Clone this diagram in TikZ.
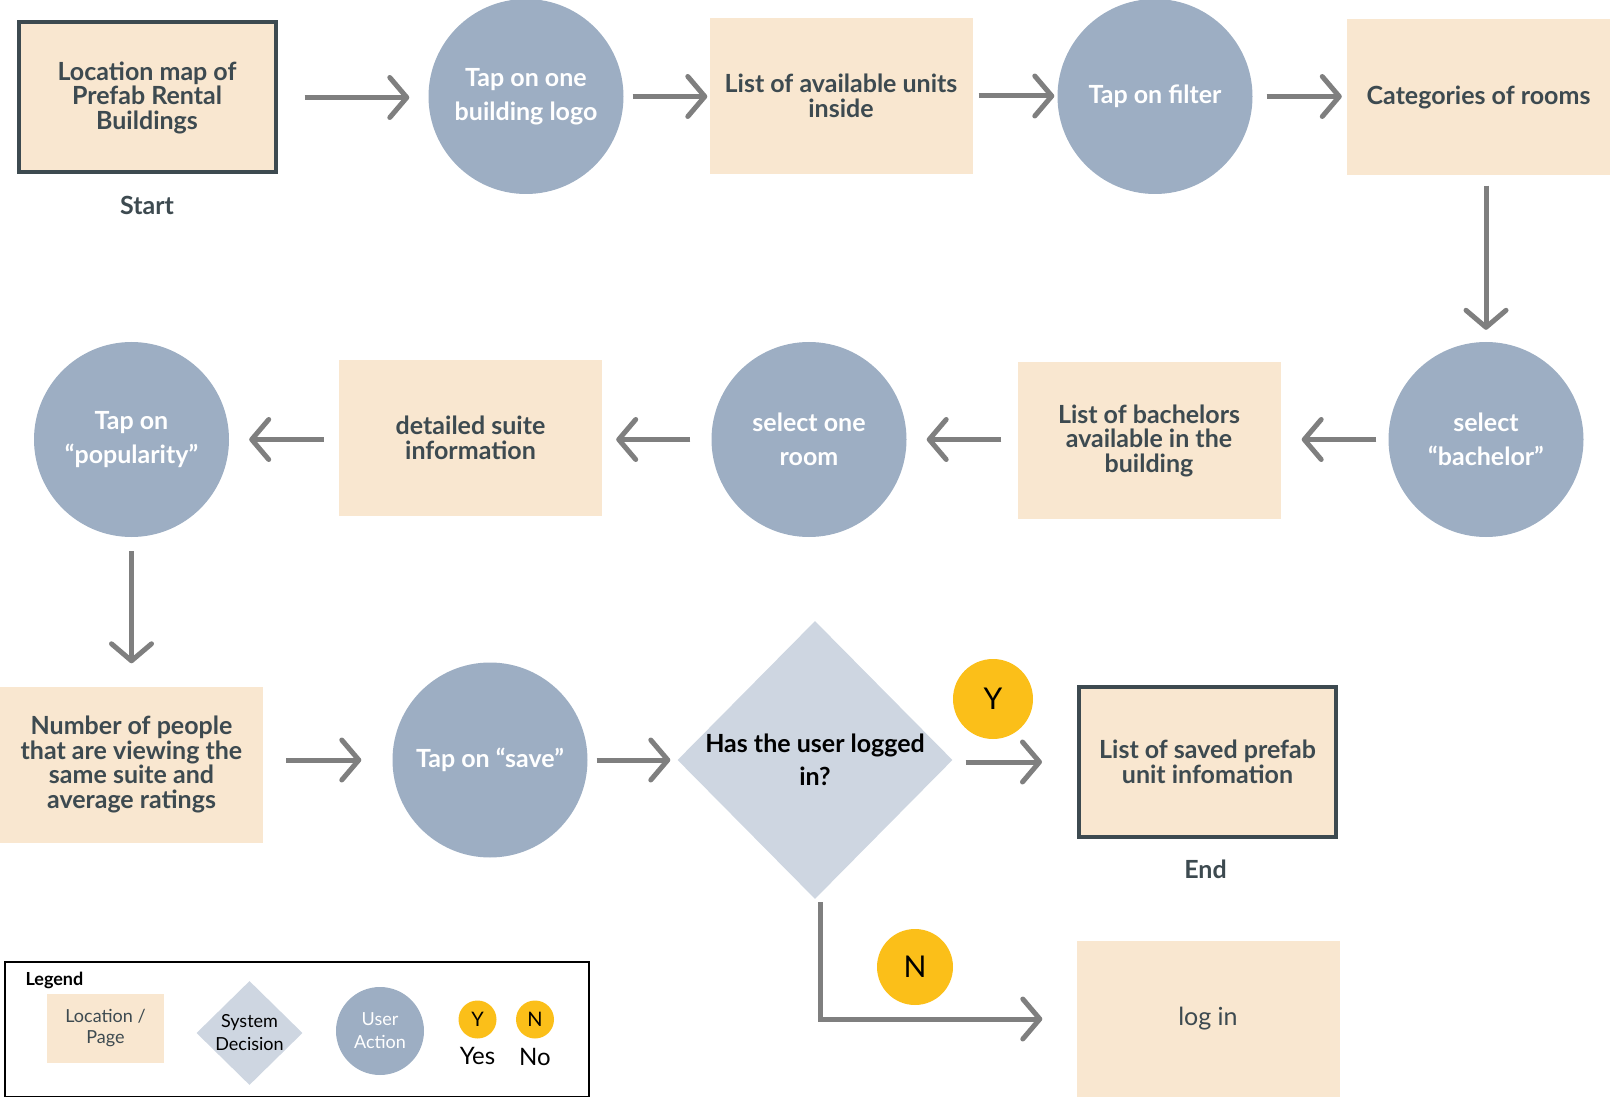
\documentclass[tikz,border=0pt]{standalone}
\usepackage{fontspec}
\setmainfont{Lato}
\usepackage{xcolor}
\usepackage{tikz}
\usetikzlibrary{shapes,arrows,positioning,calc,arrows.meta}

\definecolor{pagefill}{HTML}{F9E7D0}
\definecolor{actionfill}{HTML}{9DAEC3}
\definecolor{decfill}{HTML}{CED6E1}
\definecolor{textdark}{HTML}{3D4A50}
\definecolor{arrowgray}{HTML}{7F7F7F}
\definecolor{yesno}{HTML}{FBBF19}

\begin{document}
\begin{tikzpicture}[x=1pt, y=-1pt,
    page/.style={rectangle, fill=pagefill, minimum width=263pt, minimum height=156pt,
        align=center, text=textdark, font=\fontsize{25}{24.5}\selectfont\bfseries},
    endpage/.style={page, draw=textdark, line width=4pt, minimum width=257pt, minimum height=150pt},
    action/.style={circle, fill=actionfill, minimum size=195pt, inner sep=0pt,
        align=center, text=white, font=\fontsize{25}{34}\selectfont\bfseries},
    decision/.style={diamond, fill=decfill, minimum width=275pt, minimum height=278pt, inner sep=0pt},
    dectext/.style={align=center, text=black, font=\fontsize{25}{33}\selectfont\bfseries},
    tag/.style={text=textdark, font=\fontsize{25}{26}\selectfont\bfseries},
    yn/.style={circle, fill=yesno, minimum size=80pt, inner sep=0pt, text=black, font=\fontsize{30}{32}\selectfont},
    flow/.style={draw=arrowgray, line width=5pt,
        -{Straight Barb[length=17pt, width=40pt, line cap=round, line join=round]}},
    legbox/.style={draw=black, line width=1.6pt},
    legtext/.style={align=center, font=\fontsize{18}{23}\selectfont}]

    \useasboundingbox (0,0) rectangle (1610,1099);

    % first row
    \node[endpage] (map) at (147,97.5) {Location map of\\Prefab Rental\\Buildings};
    \node[tag] (start) at (147,205) {Start};
    \node[action] (logo) at (526,96.5) {Tap on one\\building logo};
    \node[page] (units) at (841,96) {List of available units\\inside};
    \node[action] (filter) at (1155,96.5) {Tap on filter};
    \node[page] (cats) at (1478.5,97.5) {Categories of rooms};

    % second row
    \node[action] (bachelor) at (1486,439.5) {select\\“bachelor”};
    \node[page] (bachlist) at (1149,440.5) {List of bachelors\\available in the\\building};
    \node[action] (room) at (809,439.5) {select one\\room};
    \node[page] (suite) at (470.5,438) {detailed suite\\information};
    \node[action] (popular) at (131.5,439.5) {Tap on\\“popularity”};

    % third row
    \node[page] (people) at (131.5,764.5) {Number of people\\that are viewing the\\same suite and\\average ratings};
    \node[action] (save) at (490,760) {Tap on “save”};
    \node[decision] (logged) at (815,760) {};
    \node[dectext] at (logged) {Has the user logged\\in?};
    \node[yn] (yes) at (993,699) {Y};
    \node[endpage] (saved) at (1207.5,762) {List of saved prefab\\unit infomation};
    \node[tag] (end) at (1205.5,869.5) {End};
    \node[yn, minimum size=76pt] (no) at (915,967) {N};
    \node[page, font=\fontsize{25}{26}\selectfont] (login) at (1208,1019) {log in};

    % arrows
    \draw[flow] ([xshift=27pt]map.east) -- ([xshift=-19pt]logo.west |- map.east);
    \draw[flow] ([xshift=9pt]logo.east) -- ([xshift=-2pt]units.west |- logo.east);
    \draw[flow] ([xshift=6pt]units.east) -- ([xshift=-3pt]filter.west |- units.east);
    \draw[flow] ([xshift=14pt]filter.east) -- ([xshift=-5pt]cats.west |- filter.east);
    \draw[flow] ([yshift=-10pt]bachelor |- cats.south) -- ([yshift=12pt]bachelor.north);
    \draw[flow] ([xshift=-12pt]bachelor.west) -- ([xshift=21pt]bachlist.east |- bachelor.west);
    \draw[flow] ([xshift=-16pt]bachlist.west |- room.east) -- ([xshift=20pt]room.east);
    \draw[flow] ([xshift=-21pt]room.west) -- ([xshift=14pt]suite.east |- room.west);
    \draw[flow] ([xshift=-15pt]suite.west |- popular.east) -- ([xshift=20pt]popular.east);
    \draw[flow] ([yshift=-14pt]popular.south) -- ([yshift=23pt]people.north);
    \draw[flow] ([xshift=23pt]people.east |- save.west) -- ([xshift=-31pt]save.west);
    \draw[flow] ([xshift=9pt]save.east) -- ([xshift=-7pt]logged.west);
    \draw[flow] ([xshift=13pt]logged.east |- saved.west) -- ([xshift=-35pt]saved.west);
    \draw[flow] ([xshift=5pt, yshift=-3pt]logged.south) |- ([xshift=-34pt]login.west);

    % legend
    \draw[legbox] (5,962) rectangle (589,1096.5);
    \node[font=\fontsize{18}{20}\selectfont\bfseries, anchor=west] (legend) at (22,980.5) {Legend};
    \node[page, minimum width=117pt, minimum height=69pt, legtext, font=\fontsize{18}{21}\selectfont] (legpage) at (105.5,1028.5) {Location /\\Page};
    \node[decision, minimum width=106pt, minimum height=104pt] (legdec) at (249.5,1033) {};
    \node[legtext, text=black] at (legdec) {System\\Decision};
    \node[action, minimum size=88pt, legtext, text=white] (legact) at (380,1031) {User\\Action};
    \node[yn, minimum size=38pt, font=\fontsize{20}{22}\selectfont] (legyes) at (477.5,1019.5) {Y};
    \node[yn, minimum size=38pt, font=\fontsize{20}{22}\selectfont] (legno) at (535,1019.5) {N};
    \node[font=\fontsize{24}{26}\selectfont] at (477.5,1055.5) {Yes};
    \node[font=\fontsize{24}{26}\selectfont] at (535,1056.5) {No};
\end{tikzpicture}
\end{document}
